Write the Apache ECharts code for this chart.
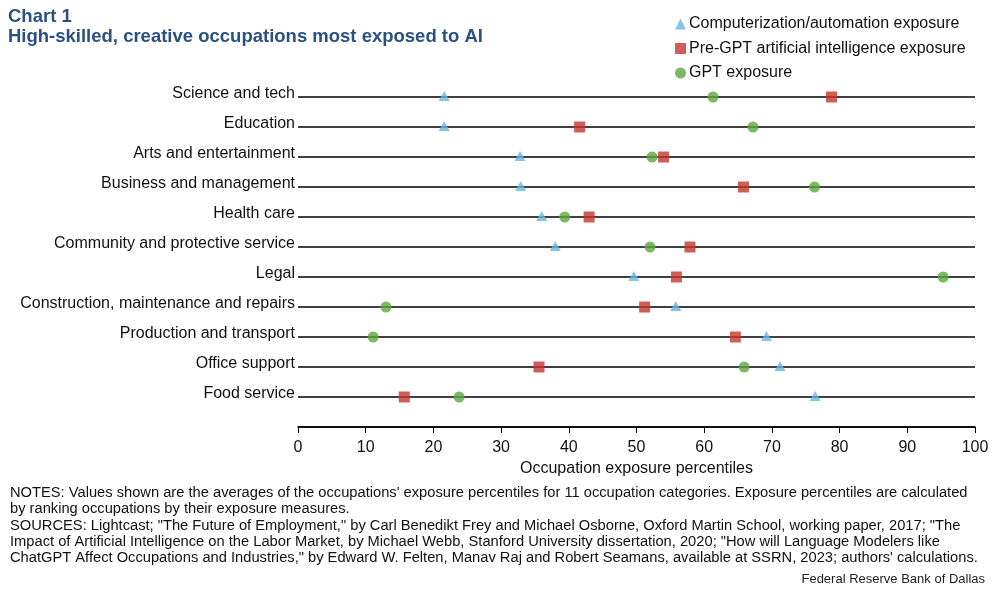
<!DOCTYPE html>
<html><head><meta charset="utf-8">
<script src="https://cdn.jsdelivr.net/npm/echarts@6/dist/echarts.min.js"></script>
<style>html,body{margin:0;padding:0;background:#fff}#c{width:995px;height:589px}</style>
</head><body><div id="c"></div>
<script>
const categories = ['Food service','Office support','Production and transport','Construction, maintenance and repairs','Legal','Community and protective service','Health care','Business and management','Arts and entertainment','Education','Science and tech'];
const computerization = [76.4, 71.2, 69.2, 55.8, 49.6, 38.0, 36.0, 32.9, 32.8, 21.6, 21.6];
const preGPT = [15.7, 35.6, 64.6, 51.2, 55.9, 57.9, 43.0, 65.8, 54.0, 41.6, 78.8];
const gpt = [23.8, 65.9, 11.1, 13.0, 95.3, 52.0, 39.4, 76.3, 52.3, 67.2, 61.3];
const xTicks = [0,10,20,30,40,50,60,70,80,90,100];
const seriesNames = ['Computerization/automation exposure','Pre-GPT artificial intelligence exposure','GPT exposure'];

const yCats = [''].concat(categories);
const toPts = arr => arr.map((v,i)=>[v, categories[i]]);
const font = 'Liberation Sans, Arial, sans-serif';
const chart = echarts.init(document.getElementById('c'), null, {renderer:'canvas'});
chart.setOption({
  animation:false,
  textStyle:{fontFamily:font},
  title:[
    {text:'Chart 1\nHigh-skilled, creative occupations most exposed to AI', left:3, top:2,
     textStyle:{fontFamily:font, fontSize:18.5, fontWeight:'bold', color:'#2B5082', lineHeight:20}},
  ],
  legend:{orient:'vertical', left:670, top:11, itemWidth:11, itemHeight:11, itemGap:8.5,
    textStyle:{fontFamily:font, fontSize:16, color:'#111', padding:[0,0,0,-2]},
    data:[{name:seriesNames[0], icon:'triangle'},{name:seriesNames[1], icon:'rect'},{name:seriesNames[2], icon:'circle'}]},
  grid:{left:298, right:20, top:97, bottom:162, containLabel:false},
  xAxis:{type:'value', min:0, max:100, interval:10,
    axisLine:{show:true, lineStyle:{color:'#000', width:1.5}},
    axisTick:{show:true, length:6, lineStyle:{color:'#000', width:1}},
    splitLine:{show:false},
    axisLabel:{color:'#111', fontSize:16, margin:13, fontFamily:font,
      formatter:v=> xTicks.includes(v)? String(v):''},
    name:'Occupation exposure percentiles', nameLocation:'middle', nameGap:32,
    nameTextStyle:{color:'#111', fontSize:16, fontFamily:font}},
  yAxis:{type:'category', data:yCats, boundaryGap:false,
    axisLine:{show:false}, axisTick:{show:false},
    splitLine:{show:true, lineStyle:{color:'#000', width:1.5}},
    axisLabel:{color:'#111', fontSize:16, margin:3, fontFamily:font, verticalAlign:'bottom', lineHeight:6}},
  series:[
    {name:seriesNames[0], type:'scatter', symbol:'triangle', symbolSize:[11,10], symbolOffset:[0,-1], z:3,
     itemStyle:{color:'#67B6E0'}, data:toPts(computerization)},
    {name:seriesNames[1], type:'scatter', symbol:'rect', symbolSize:11, z:5,
     itemStyle:{color:'#C4362C'}, data:toPts(preGPT)},
    {name:seriesNames[2], type:'scatter', symbol:'circle', symbolSize:11, z:4,
     itemStyle:{color:'#5BA83D'}, data:toPts(gpt)}
  ],
  graphic:[
    {type:'text', left:10, top:485, style:{fontFamily:font, fontSize:14.7, fill:'#111', lineHeight:16.2,
      text:"NOTES: Values shown are the averages of the occupations' exposure percentiles for 11 occupation categories. Exposure percentiles are calculated\nby ranking occupations by their exposure measures.\nSOURCES: Lightcast; \"The Future of Employment,\" by Carl Benedikt Frey and Michael Osborne, Oxford Martin School, working paper, 2017; \"The\nImpact of Artificial Intelligence on the Labor Market, by Michael Webb, Stanford University dissertation, 2020; \"How will Language Modelers like\nChatGPT Affect Occupations and Industries,\" by Edward W. Felten, Manav Raj and Robert Seamans, available at SSRN, 2023; authors' calculations."}},
    {type:'text', right:10, top:573, style:{fontFamily:font, fontSize:13, fill:'#222',
      text:'Federal Reserve Bank of Dallas'}}
  ]
});
</script></body></html>
